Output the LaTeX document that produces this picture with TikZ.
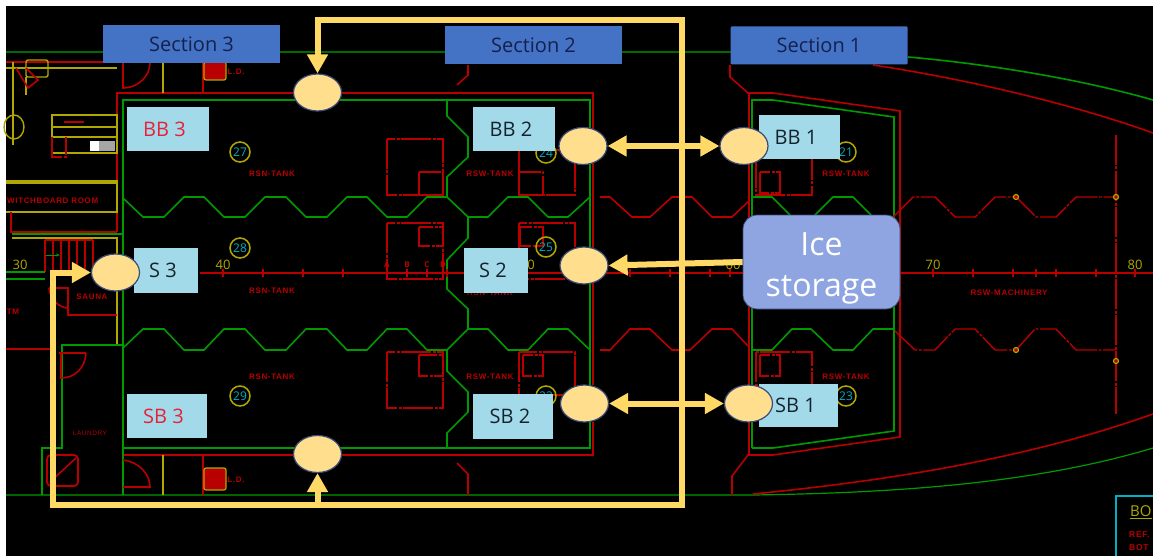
\documentclass[tikz,border=0pt]{standalone}
\usepackage{fontspec}
\setmainfont{Open Sans}
\newfontfamily\cadfont[LetterSpace=8]{Liberation Sans}
\usetikzlibrary{arrows.meta,shapes.geometric}
\definecolor{cadred}{HTML}{B80000}
\definecolor{cadgreen}{HTML}{009A00}
\definecolor{darkgreen}{HTML}{006A00}
\definecolor{cadyel}{HTML}{B0A800}
\definecolor{flow}{HTML}{FFD966}
\definecolor{secblue}{HTML}{4472C4}
\definecolor{navy}{HTML}{14214E}
\definecolor{lblue}{HTML}{A3DAEA}
\definecolor{icebg}{HTML}{8FA5E2}
\definecolor{ellfill}{HTML}{FFDF8E}
\definecolor{ellline}{HTML}{3A4A78}
\definecolor{cadcyan}{HTML}{00B0C0}
\definecolor{lblred}{HTML}{E8203A}
\definecolor{lbldark}{HTML}{15232E}
\tikzset{
  rd/.style={draw=cadred,line width=1.6pt},
  rdd/.style={draw=cadred,line width=1.4pt,dash pattern=on 30pt off 1.5pt on 3pt off 1.5pt},
  gr/.style={draw=cadgreen,line width=1.6pt},
  dgr/.style={draw=darkgreen,line width=1.2pt},
  yl/.style={draw=cadyel,line width=1.4pt},
  section/.style={draw=none,fill=secblue,text=navy,minimum width=177pt,minimum height=38pt,inner sep=0pt,font=\fontsize{20}{22}\selectfont},
  tag/.style={draw=none,fill=lblue,inner sep=0pt,font=\fontsize{20}{22}\selectfont,text=lbldark},
  redtag/.style={tag,text=lblred},
  valve/.style={ellipse,draw=ellline,line width=1.2pt,fill=ellfill,minimum width=48pt,minimum height=37pt,inner sep=0pt},
  pipe/.style={draw=flow,line width=6pt,line cap=butt},
  tankno/.style={circle,draw=cadyel,line width=1.5pt,minimum size=20pt,inner sep=0pt,text=cadcyan,font=\fontsize{12}{12}\selectfont},
  rsn/.style={text=cadred,inner sep=0pt,font=\cadfont\bfseries\fontsize{8}{9}\selectfont},
  ruler/.style={text=cadyel,inner sep=0pt,font=\fontsize{13}{14}\selectfont},
  dotmark/.style={circle,draw=cadyel,fill=cadred,line width=1.2pt,minimum size=5pt,inner sep=0pt},
}
\begin{document}
\begin{tikzpicture}[x=1pt,y=-1pt]
\useasboundingbox (0,0) rectangle (1153,556);
\fill[white] (0,0) rectangle (1153,556);
\fill[black] (6,6) rectangle (1153,556);

% hull
\draw[dgr] (6,52) -- (745,52);
\draw[gr] (908,57) .. controls (966,62) and (1066,75) .. (1153,100);
\draw[rd] (873,65) .. controls (960,78) and (1070,103) .. (1153,133);
\draw[dgr,draw=cadgreen] (6,495) -- (753,495) .. controls (886,493) and (1030,485) .. (1153,448);
\draw[rd] (753,494) .. controls (853,484) and (1010,465) .. (1153,414);

% tank walls
\draw[rd] (117,232) -- (117,93) -- (593,93) -- (593,248);
\draw[rd] (593,283) -- (593,385);
\draw[rd] (123,455) -- (593,455) -- (593,422);
\draw[gr] (123,495) -- (123,100) -- (590,100) -- (590,448) -- (123,448);
\draw[rd] (468,65) -- (468,75) -- (457,85);
\draw[rd] (457,463) -- (468,474) -- (468,495);
\draw[rd] (730,65) -- (730,77) -- (748,93) -- (773,93) -- (900,111) -- (900,437) -- (773,455) -- (748,455) -- (732,476) -- (732,495);
\draw[rd] (749,93) -- (749,455);
\draw[gr] (752,448) -- (752,100) -- (773,100) -- (894,117) -- (894,431) -- (773,448) -- (752,448);

% bulkheads
\draw[gr] (123,198) -- (143,217) -- (164,217) -- (184,197) -- (204,197) -- (224,217) -- (245,217) -- (265,197) -- (286,197) -- (306,217) -- (327,217) -- (347,197) -- (367,197) -- (387,217) -- (407,217) -- (427,197) -- (447,197) -- (468,217) -- (488,217) -- (508,197) -- (528,197) -- (548,217) -- (568,217) -- (590,197);
\draw[rd] (600,197) -- (610,197) -- (632,217) -- (650,217) -- (672,197) -- (692,197) -- (712,217) -- (732,217) -- (750,200);
\draw[gr] (752,197) -- (772,197) -- (792,217) -- (813,217) -- (833,197) -- (853,197) -- (873,217) -- (893,217);
\draw[rdd] (893,217) -- (913,197) -- (935,197) -- (955,217) -- (975,217) -- (995,197) -- (1016,197) -- (1036,217) -- (1056,217) -- (1076,197) -- (1116,197);
\draw[gr] (123,348) -- (143,329) -- (164,329) -- (184,350) -- (204,350) -- (224,329) -- (245,329) -- (265,350) -- (286,350) -- (306,329) -- (327,329) -- (347,350) -- (367,350) -- (387,329) -- (407,329) -- (427,350) -- (447,350) -- (468,329) -- (488,329) -- (508,350) -- (528,350) -- (548,329) -- (568,329) -- (590,350);
\draw[rd] (600,350) -- (610,350) -- (630,329) -- (650,329) -- (672,350) -- (690,350) -- (712,329) -- (732,329) -- (748,346);
\draw[gr] (752,350) -- (772,350) -- (792,329) -- (811,329) -- (833,350) -- (853,350) -- (873,329) -- (893,329);
\draw[rdd] (895,331) -- (915,350) -- (935,350) -- (955,329) -- (975,329) -- (995,350) -- (1016,350) -- (1035,329) -- (1056,329) -- (1076,350) -- (1116,350);
\draw[gr] (447,100) -- (447,116) -- (468,137) -- (468,157) -- (447,177) -- (447,197);
\draw[gr] (468,217) -- (468,238) -- (447,260) -- (447,289) -- (468,309) -- (468,329);
\draw[gr] (447,350) -- (447,371) -- (468,392) -- (468,412) -- (447,433) -- (447,448);
\draw[rdd] (1116,135) -- (1116,414);

% frames in the tanks
\foreach \xa/\xb/\ya/\yb/\xc/\xd/\yc/\yd in {387/443/139/195/419/443/172/195, 519/575/150/195/519/543/172/195, 387/443/223/279/419/443/227/246, 519/575/223/279/520/543/227/246, 387/443/352/408/419/443/355/376, 519/575/352/395/523/543/355/376, 756/812/158/195/760/780/172/193, 756/812/352/385/760/780/355/376}{
  \draw[rdd] (\xa,\ya) rectangle (\xb,\yb);
  \draw[rdd] (\xc,\yc) rectangle (\xd,\yd);
}

% centre line
\draw[rd] (200,273) -- (1153,273);
\foreach \x in {223,263,303,343,387,407,427,447,630,670,710,730,773,813,853,893,933,973,1013,1036,1056,1096,1135}{
  \draw[draw=cadred,line width=1.2pt] (\x,269) -- (\x,277);
}
\node[ruler] (r30) at (20,265) {30};
\node[ruler] (r40) at (223,265) {40};
\node[ruler] (r50) at (531,265) {0};
\node[ruler] (r60) at (733,265) {60};
\node[ruler] (r70) at (933,265) {70};
\node[ruler] (r80) at (1135,265) {80};
\node[text=cadred,inner sep=0pt,font=\bfseries\fontsize{8}{9}\selectfont] (fa) at (387,265) {A};
\node[text=cadred,inner sep=0pt,font=\bfseries\fontsize{8}{9}\selectfont] (fb) at (407,265) {B};
\node[text=cadred,inner sep=0pt,font=\bfseries\fontsize{8}{9}\selectfont] (fc) at (427,265) {C};
\node[text=cadred,inner sep=0pt,font=\bfseries\fontsize{8}{9}\selectfont] (fd) at (443,265) {D};
\node[dotmark] (d1) at (1016,197) {};
\node[dotmark] (d2) at (1116,197) {};
\node[dotmark] (d3) at (1016,350) {};
\node[dotmark] (d4) at (1116,361) {};

% tank numbers and names
\node[tankno] (t27) at (240,152) {27};
\node[tankno] (t28) at (240,248) {28};
\node[tankno] (t29) at (240,396) {29};
\node[tankno] (t24) at (546,153) {24};
\node[tankno] (t25) at (546,247) {25};
\node[tankno] (t22) at (546,396) {22};
\node[tankno] (t21) at (846,152) {21};
\node[tankno] (t23) at (846,396) {23};
\node[rsn] (n1) at (272,174) {RSN-TANK};
\node[rsn] (n2) at (272,291) {RSN-TANK};
\node[rsn] (n3) at (272,377) {RSN-TANK};
\node[rsn] (n4) at (490,174) {RSW-TANK};
\node[rsn] (n5) at (490,293) {RSN-TANK};
\node[rsn] (n6) at (490,377) {RSW-TANK};
\node[rsn] (n7) at (846,174) {RSW-TANK};
\node[rsn] (n8) at (846,377) {RSW-TANK};
\node[rsn] (n9) at (1009,293) {RSW-MACHINERY};

% rooms on the left
\draw[rd] (6,62) -- (150,62);
\draw[yl] (6,68) -- (117,68);
\draw[yl] (13,62) -- (13,145);
\draw[yl,rounded corners=2pt] (26,60) rectangle (48,77);
\draw[draw=cadyel,line width=2pt] (26,77) -- (26,95);
\draw[rd] (16,68) -- (28,88) -- (38,80) -- (26,68);
\draw[yl] (14,127) ellipse (10 and 12);
\draw[yl] (52,115) rectangle (117,127);
\draw[yl] (52,127) rectangle (117,137);
\draw[yl] (52,137) rectangle (117,153);
\draw[rd] (64,122) -- (84,122);
\draw[rdd] (52,137) -- (52,157) -- (66,157) -- (66,137);
\fill[white] (90,141) rectangle (99,151);
\fill[gray!70] (99,141) rectangle (115,151);
\draw[yl] (6,181) -- (117,181) -- (117,212) -- (6,212);
\draw[yl] (6,183) -- (117,183);
\node[rsn,anchor=west] (swb) at (7,201) {WITCHBOARD ROOM};
\draw[draw=cadred,line width=2pt] (11,212) -- (11,232) -- (117,232);
\draw[gr] (12,234) -- (123,234);
\draw[yl] (12,238) -- (117,238) -- (117,345);
\foreach \x in {45,53,61,69,77,85,93}{\draw[rd] (\x,240) -- (\x,272);}
\draw[rd] (45,240) -- (93,240);
\draw[draw=cadgreen,line width=1pt,-{Stealth[length=4pt]}] (46,255) -- (60,255);
\draw[gr] (6,272) -- (45,272);
\draw[gr] (6,279) -- (45,279);
\draw[draw=cadred,line width=2pt] (49,288) -- (68,288) -- (68,315) -- (117,315);
\draw[rd] (49,288) .. controls (50,300) and (60,308) .. (68,308);
\node[rsn] (sauna) at (92,297) {SAUNA};
\node[rsn] (tm) at (13,312) {TM};
\draw[draw=cadred,line width=1.6pt] (6,349) -- (50,349);
\draw[gr] (123,345) -- (62,345) -- (62,448) -- (42,448) -- (42,495);
\draw[draw=cadred,line width=1.6pt] (59,353) -- (86,353);
\draw[rd] (61,353) -- (61,378) .. controls (75,378) and (85,368) .. (86,353);
\node[text=cadred,inner sep=0pt,font=\cadfont\fontsize{6.5}{7}\selectfont] (laundry) at (90,433) {LAUNDRY};
\draw[draw=cadred,line width=1.8pt,rounded corners=4pt] (47,455) rectangle (78,486);
\draw[rd] (50,482) -- (76,458);

% doors and lockers
\draw[rd] (123,63) -- (123,88) .. controls (138,88) and (150,76) .. (150,63);
\draw[yl] (163,62) -- (163,93);
\draw[rd] (203,62) -- (203,93);
\draw[draw=cadyel,fill=cadred,line width=1.2pt,rounded corners=2pt] (204,62) rectangle (226,80);
\node[rsn] (ld1) at (236,72) {L.D.};
\draw[rd] (123,460) .. controls (140,462) and (150,475) .. (150,487) -- (123,487);
\draw[yl] (163,455) -- (163,495);
\draw[rd] (203,455) -- (203,495);
\draw[draw=cadyel,fill=cadred,line width=1.2pt,rounded corners=2pt] (204,468) rectangle (226,490);
\node[rsn] (ld2) at (236,480) {L.D.};

% title block corner
\draw[draw=cadcyan,line width=1.2pt] (1153,496) -- (1116,496) -- (1116,556);
\node[anchor=west,text=cadyel,inner sep=0pt,font=\fontsize{15}{16}\selectfont] (bo) at (1130,512) {\underline{BO}};
\node[anchor=west,text=cadred,inner sep=0pt,font=\cadfont\bfseries\fontsize{8.5}{9}\selectfont] (ref) at (1129,535) {REF.};
\node[anchor=west,text=cadred,inner sep=0pt,font=\cadfont\bfseries\fontsize{8.5}{9}\selectfont] (bot) at (1129,548) {BOT};

% overlay labels
\node[section] (sec3) at (191.5,44) {Section 3};
\node[section] (sec2) at (533.5,45.5) {Section 2};
\node[section,rounded corners=1pt] (sec1) at (819,45.5) {Section 1};

\node[redtag,minimum width=82pt,minimum height=44pt] (bb3) at (168,129) {\hspace*{-7pt}BB 3};
\node[tag,minimum width=64pt,minimum height=45pt] (s3) at (166,270.5) {\hspace*{-6pt}S 3};
\node[redtag,minimum width=80pt,minimum height=44pt] (sb3) at (167,416) {\hspace*{-7pt}SB 3};
\node[tag,minimum width=82pt,minimum height=44pt] (bb2) at (514,129) {\hspace*{-6pt}BB 2};
\node[tag,minimum width=64pt,minimum height=45pt] (s2) at (496,270.5) {\hspace*{-6pt}S 2};
\node[tag,minimum width=80pt,minimum height=45pt] (sb2) at (513,416.5) {\hspace*{-6pt}SB 2};
\node[tag,minimum width=81pt,minimum height=44pt] (bb1) at (799.5,137) {\hspace*{-7pt}BB 1};
\node[tag,minimum width=79pt,minimum height=43pt] (sb1) at (798.5,405.5) {\hspace*{-6pt}SB 1};

\node[draw=ellline,line width=0.8pt,fill=icebg,rounded corners=14pt,minimum width=157pt,minimum height=94pt,inner sep=0pt,text depth=0pt] (ice) at (821.5,262) {};
\node[text=white,inner sep=0pt,align=center,font=\fontsize{32}{41}\selectfont] (icetxt) at (821.5,268) {Ice\\storage};

\node[valve] (vtop) at (317.5,92.5) {};
\node[valve] (vbot) at (317.5,454) {};
\node[valve] (vs3) at (115.5,272.5) {};
\node[valve] (vbb2) at (583,146) {};
\node[valve] (vs2) at (584,265.5) {};
\node[valve] (vsb2) at (584.5,403.5) {};
\node[valve] (vbb1) at (744,146) {};
\node[valve] (vsb1) at (748.5,403.5) {};

% pipe runs
\coordinate (ca) at (317.5,20);
\coordinate (cb) at (682,20);
\coordinate (cc) at (682,505);
\coordinate (cd) at (53,505);
\coordinate (ce) at (53,272.5);
\coordinate (ef) at (50,272.5);
\coordinate (cj) at (317.5,505);
\draw[pipe,-{Triangle[length=19pt,width=20pt]},line join=miter] (ce) -- (cd) -- (cc) -- (cb) -- (ca) -- (vtop.north);
\draw[pipe,-{Triangle[length=19pt,width=20pt]}] (ef) -- (vs3.west);
\draw[pipe,-{Triangle[length=19pt,width=20pt]}] (cj) -- (vbot.south);
\draw[pipe,{Triangle[length=19pt,width=20pt]}-{Triangle[length=19pt,width=20pt]}] (vbb2.east) -- (vbb1.west);
\draw[pipe,{Triangle[length=19pt,width=20pt]}-{Triangle[length=19pt,width=20pt]}] (vsb2.east) -- (vsb1.west);
\draw[pipe,-{Triangle[length=19pt,width=20pt]}] (ice.west |- 0,262) -- (vs2.east);
\end{tikzpicture}
\end{document}
